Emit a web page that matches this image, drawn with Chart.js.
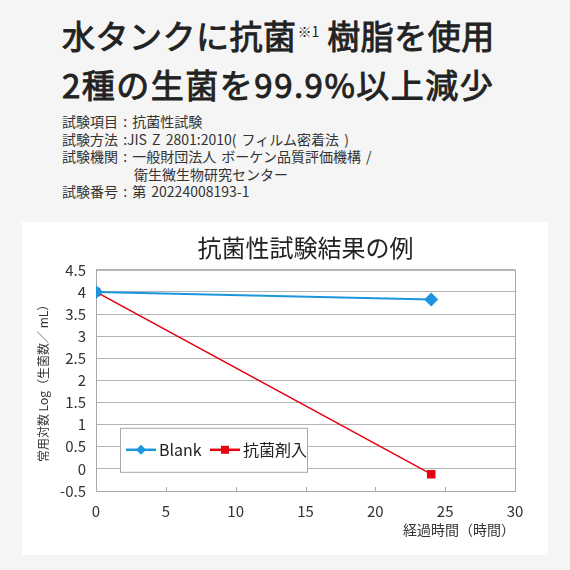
<!DOCTYPE html>
<html lang="ja">
<head>
<meta charset="utf-8">
<title>抗菌性試験結果の例</title>
<script src="https://cdn.jsdelivr.net/npm/chart.js@4/dist/chart.umd.min.js"></script>
<style>
    html, body {
        margin: 0;
        padding: 0;
        width: 570px;
        height: 570px;
        background: #f5f5f5;
        font-family: "Noto Sans CJK JP", "Noto Sans", sans-serif;
        color: #222;
        overflow: hidden;
    }
    .headline {
        position: absolute;
        left: 62px;
        font-size: 33px;
        font-weight: 400;
        -webkit-text-stroke: 0.9px #222;
        line-height: 40px;
        letter-spacing: 0.5px;
        white-space: nowrap;
    }
    .headline sup {
        font-size: 14px;
        font-weight: 400;
        -webkit-text-stroke: 0;
        vertical-align: 12px;
        letter-spacing: 0;
        margin-left: 1px;
    }
    .details {
        position: absolute;
        left: 62px;
        top: 113px;
        font-size: 14px;
        line-height: 17.6px;
        color: #333;
        white-space: nowrap;
        word-spacing: 2px;
    }
    .details .indent {
        padding-left: 72px;
    }
    .panel {
        position: absolute;
        left: 22px;
        top: 222px;
        width: 526px;
        height: 333px;
        background: #fff;
    }
</style>
</head>
<body>
<div class="headline" style="top:11px">水タンクに抗菌<sup>※1</sup> 樹脂を使用</div>
<div class="headline" style="top:64px; letter-spacing:1.5px">2種の生菌を99.9%以上減少</div>
<div class="details">
    <div>試験項目 : 抗菌性試験</div>
    <div>試験方法 :JIS Z 2801:2010( フィルム密着法 )</div>
    <div>試験機関 : 一般財団法人 ボーケン品質評価機構 /</div>
    <div class="indent">衛生微生物研究センター</div>
    <div>試験番号 : 第 20224008193-1</div>
</div>
<div class="panel">
    <canvas id="chart" width="526" height="333"></canvas>
</div>
<script>
// Chart data
const chartTitle = '抗菌性試験結果の例';
const xAxisTitle = '経過時間（時間）';
const yAxisTitle = '常用対数 Log（生菌数／ mL）';
const elapsedHours = [0, 24];
const blankValues = [4.0, 3.83];
const agentValues = [4.0, -0.12];
const seriesLabels = ['Blank', '抗菌剤入'];
const seriesColors = ['#1b96dc', '#e50012'];

const FONT = '"Noto Sans CJK JP", "Noto Sans", sans-serif';

function toPoints(xs, ys) {
    return xs.map((x, i) => ({ x: x, y: ys[i] }));
}

// Frame, inner ticks and boxed legend drawn inside the plot area
const framePlugin = {
    id: 'frameAndLegend',
    beforeDatasetsDraw(chart) {
        const { ctx, chartArea, scales } = chart;
        ctx.save();
        ctx.strokeStyle = '#a8a8a8';
        ctx.lineWidth = 1;
        ctx.strokeRect(chartArea.left + 0.5, chartArea.top + 0.5,
            chartArea.right - chartArea.left, chartArea.bottom - chartArea.top);
        // small x ticks pointing up from the bottom line
        scales.x.ticks.forEach(t => {
            const px = Math.round(scales.x.getPixelForValue(t.value)) + 0.5;
            ctx.beginPath();
            ctx.moveTo(px, chartArea.bottom);
            ctx.lineTo(px, chartArea.bottom - 4);
            ctx.stroke();
        });
        ctx.restore();
    },
    afterDatasetsDraw(chart) {
        const { ctx, chartArea } = chart;
        const bx = chartArea.left + 24;
        const by = chartArea.top + 158;
        const bw = 187;
        const bh = 44;
        ctx.save();
        ctx.fillStyle = '#fff';
        ctx.fillRect(bx, by, bw, bh);
        ctx.strokeStyle = '#a8a8a8';
        ctx.lineWidth = 1;
        ctx.strokeRect(bx + 0.5, by + 0.5, bw, bh);

        const cy = by + bh / 2;
        const itemX = [bx + 6, bx + 90];
        ctx.font = '16px ' + FONT;
        ctx.textBaseline = 'middle';
        chart.data.datasets.forEach((ds, i) => {
            const x0 = itemX[i];
            ctx.strokeStyle = ds.borderColor;
            ctx.lineWidth = 2.5;
            ctx.beginPath();
            ctx.moveTo(x0, cy);
            ctx.lineTo(x0 + 30, cy);
            ctx.stroke();
            ctx.fillStyle = ds.backgroundColor;
            if (ds.pointStyle === 'rectRot') {
                ctx.beginPath();
                ctx.moveTo(x0 + 15, cy - 5);
                ctx.lineTo(x0 + 20, cy);
                ctx.lineTo(x0 + 15, cy + 5);
                ctx.lineTo(x0 + 10, cy);
                ctx.closePath();
                ctx.fill();
            } else {
                ctx.fillRect(x0 + 11, cy - 4, 8, 8);
            }
            ctx.fillStyle = '#222';
            ctx.fillText(ds.label, x0 + 33, cy);
        });
        ctx.restore();
    }
};

new Chart(document.getElementById('chart'), {
    type: 'line',
    data: {
        datasets: [
            {
                label: seriesLabels[0],
                data: toPoints(elapsedHours, blankValues),
                borderColor: seriesColors[0],
                backgroundColor: seriesColors[0],
                borderWidth: 2,
                pointStyle: 'rectRot',
                pointRadius: 7,
                pointBorderWidth: 0,
                tension: 0
            },
            {
                label: seriesLabels[1],
                data: toPoints(elapsedHours, agentValues),
                borderColor: seriesColors[1],
                backgroundColor: seriesColors[1],
                borderWidth: 1.5,
                pointStyle: 'rect',
                pointRadius: 6,
                pointBorderWidth: 0,
                tension: 0
            }
        ]
    },
    options: {
        responsive: false,
        animation: false,
        layout: { padding: { left: 14, right: 33, top: 0, bottom: 17 } },
        plugins: {
            legend: { display: false },
            tooltip: { enabled: false },
            title: {
                display: true,
                text: chartTitle,
                fullSize: false,
                color: '#222',
                font: { family: FONT, size: 24, weight: 'normal' },
                padding: { top: 11, bottom: 8 }
            }
        },
        scales: {
            x: {
                type: 'linear',
                min: 0,
                max: 30,
                ticks: {
                    stepSize: 5,
                    color: '#333',
                    padding: 3,
                    font: { family: FONT, size: 15 }
                },
                grid: { display: false },
                border: { display: false },
                title: {
                    display: true,
                    text: xAxisTitle,
                    align: 'end',
                    color: '#333',
                    font: { family: FONT, size: 14 },
                    padding: { top: 0, bottom: 0 }
                },
                afterFit(scale) { scale.height = 47; }
            },
            y: {
                min: -0.5,
                max: 4.5,
                ticks: {
                    stepSize: 0.5,
                    color: '#333',
                    padding: 10,
                    font: { family: FONT, size: 15 },
                    callback: v => String(Number(v.toFixed(1)))
                },
                grid: { color: '#b4b4b4', drawTicks: false },
                border: { display: false },
                title: {
                    display: true,
                    text: yAxisTitle,
                    color: '#333',
                    font: { family: FONT, size: 12 },
                    padding: { top: 0, bottom: 0 }
                },
                afterFit(scale) { scale.width = 60; }
            }
        }
    },
    plugins: [framePlugin]
});
</script>
</body>
</html>
